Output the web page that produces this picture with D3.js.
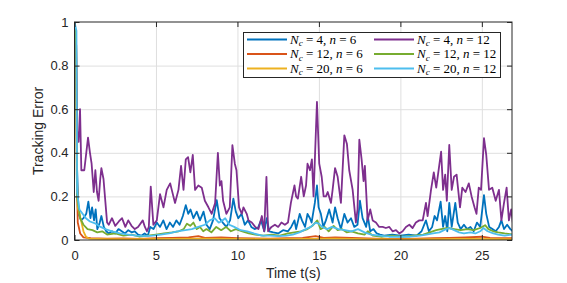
<!DOCTYPE html>
<html>
<head>
<meta charset="utf-8">
<script src="https://cdn.jsdelivr.net/npm/d3@7"></script>
<style>
  body { margin: 0; background: #fff; }
  svg { display: block; font-family: "Liberation Sans", Arial, sans-serif; }
</style>
</head>
<body>
<svg id="chart" width="567" height="283"></svg>
<script>
(function () {

    // [time (s), tracking error]
    const blue46 = [[0,1],[0.1,0.9],[0.15,0.35],[0.25,0.12],[0.4,0.09],[0.55,0.1],[0.72,0.12],[0.85,0.176],[0.98,0.1],[1.08,0.15],[1.2,0.09],[1.3,0.14],[1.4,0.05],[1.55,0.08],[1.65,0.11],[1.8,0.06],[1.95,0.04],[2.1,0.03],[2.3,0.04],[2.5,0.03],[2.7,0.05],[2.9,0.04],[3.1,0.03],[3.3,0.045],[3.5,0.035],[3.7,0.04],[3.9,0.025],[4.1,0.02],[4.3,0.03],[4.5,0.02],[4.65,0.06],[4.85,0.05],[5.05,0.08],[5.25,0.06],[5.45,0.09],[5.65,0.05],[5.85,0.08],[6.05,0.06],[6.25,0.09],[6.45,0.07],[6.65,0.11],[6.83,0.16],[6.98,0.12],[7.12,0.14],[7.3,0.1],[7.5,0.13],[7.7,0.09],[7.92,0.13],[8.1,0.07],[8.3,0.05],[8.5,0.09],[8.73,0.183],[8.9,0.1],[9.1,0.08],[9.32,0.06],[9.55,0.09],[9.75,0.19],[9.9,0.13],[10.05,0.1],[10.25,0.12],[10.45,0.07],[10.65,0.09],[10.85,0.06],[11.05,0.05],[11.25,0.055],[11.45,0.09],[11.65,0.04],[11.8,0.1],[11.95,0.04],[12.2,0.035],[12.5,0.03],[12.8,0.045],[13.1,0.04],[13.3,0.06],[13.5,0.09],[13.6,0.05],[13.82,0.12],[13.96,0.09],[14.15,0.06],[14.3,0.12],[14.45,0.1],[14.55,0.08],[14.75,0.17],[14.88,0.25],[14.98,0.15],[15.12,0.12],[15.27,0.06],[15.43,0.09],[15.63,0.14],[15.84,0.08],[15.99,0.15],[16.15,0.1],[16.35,0.05],[16.56,0.12],[16.76,0.08],[16.97,0.1],[17.17,0.06],[17.37,0.07],[17.52,0.18],[17.68,0.1],[17.9,0.06],[18.0,0.11],[18.15,0.04],[18.35,0.05],[18.55,0.03],[18.75,0.025],[19.0,0.02],[19.5,0.025],[20.0,0.02],[20.5,0.025],[21.0,0.02],[21.3,0.04],[21.57,0.09],[21.75,0.04],[21.95,0.06],[22.1,0.11],[22.25,0.09],[22.47,0.176],[22.62,0.06],[22.75,0.11],[22.88,0.04],[23.0,0.17],[23.15,0.06],[23.37,0.17],[23.52,0.08],[23.7,0.05],[23.9,0.07],[24.1,0.05],[24.3,0.06],[24.5,0.04],[24.7,0.08],[24.9,0.06],[25.13,0.206],[25.27,0.12],[25.45,0.06],[25.65,0.05],[25.85,0.04],[26.05,0.06],[26.2,0.09],[26.36,0.05],[26.55,0.07],[26.75,0.05],[26.9,0.04]];

    const orange126 = [[0,1],[0.1,0.9],[0.14,0.3],[0.2,0.08],[0.35,0.03],[0.55,0.012],[1,0.008],[2,0.006],[3,0.007],[4,0.005],[5,0.008],[6,0.01],[7,0.012],[7.6,0.018],[8,0.01],[9,0.012],[10,0.009],[11,0.007],[12,0.006],[13,0.008],[14,0.01],[14.8,0.018],[15.3,0.01],[16,0.012],[17,0.01],[18,0.007],[19,0.005],[20,0.005],[21,0.006],[22,0.008],[23,0.01],[24,0.012],[25,0.015],[25.5,0.01],[26.9,0.008]];

    const yellow206 = [[0,1],[0.1,0.9],[0.15,0.3],[0.2,0.15],[0.4,0.09],[0.55,0.04],[0.7,0.015],[0.9,0.006],[2,0.004],[4,0.004],[6,0.005],[8,0.006],[10,0.005],[12,0.004],[14,0.005],[16,0.006],[18,0.004],[20,0.003],[22,0.004],[24,0.005],[26.9,0.004]];

    const purple412 = [[0,1],[0.1,0.9],[0.16,0.5],[0.25,0.45],[0.34,0.6],[0.42,0.32],[0.6,0.32],[0.83,0.47],[0.95,0.4],[1.05,0.35],[1.18,0.22],[1.28,0.32],[1.38,0.22],[1.48,0.18],[1.58,0.28],[1.65,0.33],[1.78,0.28],[1.9,0.17],[2.0,0.08],[2.1,0.07],[2.3,0.1],[2.5,0.065],[2.72,0.085],[2.92,0.1],[3.02,0.08],[3.12,0.06],[3.3,0.09],[3.5,0.065],[3.7,0.05],[3.9,0.06],[4.19,0.09],[4.32,0.06],[4.45,0.04],[4.56,0.06],[4.68,0.245],[4.84,0.07],[5.05,0.09],[5.25,0.21],[5.46,0.15],[5.66,0.23],[5.87,0.26],[5.97,0.23],[6.17,0.17],[6.38,0.23],[6.54,0.34],[6.69,0.23],[6.83,0.37],[6.97,0.38],[7.11,0.31],[7.26,0.39],[7.4,0.23],[7.6,0.25],[7.81,0.24],[8.0,0.18],[8.22,0.15],[8.42,0.12],[8.63,0.17],[8.8,0.4],[8.92,0.25],[9.02,0.27],[9.12,0.18],[9.32,0.12],[9.53,0.15],[9.69,0.435],[9.84,0.35],[9.94,0.32],[10.1,0.15],[10.27,0.12],[10.37,0.15],[10.57,0.12],[10.68,0.09],[10.88,0.08],[11.09,0.06],[11.29,0.05],[11.5,0.11],[11.64,0.04],[11.78,0.29],[11.88,0.04],[12.09,0.06],[12.3,0.07],[12.5,0.06],[12.7,0.08],[12.91,0.07],[13.1,0.08],[13.28,0.17],[13.5,0.25],[13.6,0.2],[13.71,0.19],[13.91,0.29],[14.07,0.2],[14.21,0.25],[14.3,0.35],[14.45,0.32],[14.57,0.37],[14.67,0.2],[14.88,0.634],[15.02,0.35],[15.17,0.29],[15.29,0.2],[15.43,0.2],[15.54,0.22],[15.74,0.17],[15.84,0.23],[15.99,0.33],[16.15,0.29],[16.35,0.17],[16.56,0.48],[16.72,0.44],[16.86,0.32],[17.07,0.23],[17.27,0.08],[17.37,0.14],[17.48,0.46],[17.62,0.37],[17.74,0.27],[17.82,0.34],[17.99,0.09],[18.15,0.14],[18.3,0.09],[18.5,0.08],[18.7,0.06],[18.91,0.06],[19.11,0.055],[19.32,0.06],[19.52,0.04],[19.73,0.045],[19.93,0.03],[20.14,0.04],[20.34,0.06],[20.55,0.07],[20.75,0.055],[20.95,0.08],[21.16,0.09],[21.37,0.09],[21.57,0.17],[21.67,0.11],[21.88,0.23],[22.05,0.31],[22.2,0.24],[22.5,0.405],[22.62,0.23],[22.75,0.3],[22.85,0.18],[23.0,0.436],[23.15,0.23],[23.29,0.29],[23.45,0.3],[23.66,0.15],[23.8,0.24],[24.0,0.22],[24.2,0.26],[24.37,0.2],[24.55,0.15],[24.67,0.12],[24.81,0.24],[24.95,0.23],[25.13,0.467],[25.27,0.39],[25.44,0.23],[25.64,0.24],[25.85,0.18],[26.05,0.23],[26.2,0.09],[26.36,0.17],[26.52,0.24],[26.66,0.09],[26.8,0.14],[26.9,0.08]];

    const green1212 = [[0,1],[0.1,0.9],[0.15,0.2],[0.35,0.1],[0.55,0.07],[0.8,0.05],[1.1,0.045],[1.4,0.035],[1.7,0.04],[2.0,0.025],[2.5,0.03],[3.0,0.02],[3.5,0.025],[4.0,0.015],[4.5,0.02],[5.0,0.025],[5.5,0.03],[6.0,0.035],[6.4,0.04],[6.7,0.05],[6.9,0.075],[7.1,0.065],[7.3,0.08],[7.5,0.05],[7.7,0.06],[7.9,0.04],[8.1,0.05],[8.4,0.035],[8.7,0.06],[9.0,0.045],[9.3,0.06],[9.6,0.04],[9.9,0.05],[10.3,0.04],[10.7,0.03],[11.1,0.025],[11.6,0.02],[12.1,0.025],[12.6,0.02],[13.1,0.03],[13.5,0.035],[13.9,0.04],[14.3,0.05],[14.6,0.065],[14.9,0.09],[15.1,0.05],[15.35,0.06],[15.6,0.04],[15.9,0.065],[16.15,0.045],[16.4,0.05],[16.7,0.035],[17.0,0.04],[17.4,0.03],[17.8,0.025],[18.0,0.04],[18.3,0.02],[18.8,0.015],[19.5,0.02],[20.2,0.015],[20.8,0.02],[21.4,0.025],[21.8,0.035],[22.2,0.045],[22.5,0.05],[22.9,0.055],[23.3,0.05],[23.7,0.045],[24.1,0.05],[24.5,0.045],[24.9,0.055],[25.2,0.068],[25.4,0.05],[25.7,0.04],[26.0,0.035],[26.4,0.03],[26.9,0.025]];

    const cyan2012 = [[0,1],[0.12,0.96],[0.16,0.22],[0.3,0.14],[0.5,0.12],[0.7,0.1],[0.95,0.085],[1.3,0.075],[1.6,0.06],[1.9,0.05],[2.3,0.04],[2.8,0.03],[3.3,0.025],[3.8,0.02],[4.3,0.018],[4.8,0.02],[5.3,0.025],[5.8,0.03],[6.3,0.04],[6.8,0.045],[7.2,0.05],[7.6,0.06],[8.0,0.07],[8.3,0.09],[8.6,0.1],[8.85,0.08],[9.0,0.085],[9.25,0.1],[9.5,0.07],[9.8,0.06],[10.2,0.045],[10.6,0.04],[11.0,0.03],[11.5,0.02],[12.0,0.02],[12.5,0.018],[13.0,0.02],[13.4,0.025],[13.8,0.035],[14.2,0.05],[14.5,0.06],[14.8,0.08],[15.0,0.075],[15.2,0.06],[15.5,0.05],[15.8,0.06],[16.2,0.05],[16.6,0.045],[17.0,0.04],[17.4,0.05],[17.8,0.035],[18.2,0.025],[18.7,0.02],[19.3,0.015],[20.0,0.015],[20.6,0.015],[21.2,0.02],[21.6,0.025],[22.0,0.03],[22.4,0.035],[22.8,0.05],[23.0,0.055],[23.3,0.045],[23.6,0.035],[23.9,0.03],[24.3,0.035],[24.6,0.03],[24.9,0.04],[25.1,0.055],[25.35,0.04],[25.7,0.03],[26.0,0.025],[26.4,0.02],[26.9,0.025]];

    const seriesData = [blue46, orange126, yellow206, purple412, green1212, cyan2012];
    const seriesNc = [4, 12, 20, 4, 12, 20];
    const seriesN = [6, 6, 6, 12, 12, 12];
    const colors = ["#0072BD", "#D95319", "#EDB120", "#7E2F8E", "#77AC30", "#4DBEEE"];

    const xTicks = [0, 5, 10, 15, 20, 25];
    const yTicks = [0, 0.2, 0.4, 0.6, 0.8, 1];

    const left = 74.5, right = 512, top = 22, bottom = 240;
    const axisColor = "#262626";

    const svg = d3.select("#chart");

    const x = d3.scaleLinear().domain([0, 26.85]).range([left, right]);
    const y = d3.scaleLinear().domain([0, 1]).range([bottom, top]);

    // grid
    svg.append("g")
        .attr("transform", `translate(0,${bottom})`)
        .call(d3.axisBottom(x).tickValues(xTicks.slice(1)).tickSize(-(bottom - top)).tickFormat(""))
        .call(g => g.select(".domain").remove())
        .selectAll("line").attr("stroke", "#dfdfdf");
    svg.append("g")
        .attr("transform", `translate(${left},0)`)
        .call(d3.axisLeft(y).tickValues(yTicks.slice(1, -1)).tickSize(-(right - left)).tickFormat(""))
        .call(g => g.select(".domain").remove())
        .selectAll("line").attr("stroke", "#dfdfdf");

    svg.append("clipPath").attr("id", "plotclip")
        .append("rect")
        .attr("x", left).attr("y", top - 2)
        .attr("width", right - left).attr("height", bottom - top + 2);

    const line = d3.line().x(d => x(d[0])).y(d => y(d[1]));

    svg.append("g")
        .attr("clip-path", "url(#plotclip)")
        .selectAll("path")
        .data(seriesData)
        .enter()
        .append("path")
        .attr("d", line)
        .attr("fill", "none")
        .attr("stroke", (d, i) => colors[i])
        .attr("stroke-width", 1.8)
        .attr("stroke-linejoin", "round");

    // axes with inward ticks on all sides
    const styleAxis = g => {
        g.select(".domain").remove();
        g.selectAll("line").attr("stroke", axisColor);
        g.selectAll("text")
            .attr("fill", axisColor)
            .attr("font-size", 13)
            .attr("font-family", "Liberation Sans, Arial, sans-serif");
    };

    svg.append("g")
        .attr("transform", `translate(0,${bottom})`)
        .call(d3.axisBottom(x).tickValues(xTicks).tickSize(-5).tickPadding(11).tickFormat(d3.format("d")))
        .call(styleAxis);
    svg.append("g")
        .attr("transform", `translate(0,${top})`)
        .call(d3.axisTop(x).tickValues(xTicks).tickSize(-5).tickFormat(""))
        .call(styleAxis);
    svg.append("g")
        .attr("transform", `translate(${left},0)`)
        .call(d3.axisLeft(y).tickValues(yTicks).tickSize(-5).tickPadding(6).tickFormat(d => d === 0 || d === 1 ? d : d3.format(".1f")(d)))
        .call(styleAxis);
    svg.append("g")
        .attr("transform", `translate(${right},0)`)
        .call(d3.axisRight(y).tickValues(yTicks).tickSize(-5).tickFormat(""))
        .call(styleAxis);

    svg.append("rect")
        .attr("x", left).attr("y", top)
        .attr("width", right - left).attr("height", bottom - top)
        .attr("fill", "none")
        .attr("stroke", axisColor)
        .attr("stroke-width", 1);

    svg.append("text")
        .attr("x", (left + right) / 2)
        .attr("y", 278)
        .attr("text-anchor", "middle")
        .attr("font-size", 14)
        .attr("fill", axisColor)
        .text("Time t(s)");

    svg.append("text")
        .attr("transform", `translate(43,${(top + bottom) / 2}) rotate(-90)`)
        .attr("text-anchor", "middle")
        .attr("font-size", 14)
        .attr("fill", axisColor)
        .text("Tracking Error");

    // legend
    const legend = svg.append("g");
    legend.append("rect")
        .attr("x", 243.5).attr("y", 32.5)
        .attr("width", 257).attr("height", 45)
        .attr("fill", "#fff")
        .attr("stroke", axisColor)
        .attr("stroke-width", 1);

    const colX = [247, 374];
    const rowY = [39.5, 54, 68.5];

    const items = legend.selectAll("g.item")
        .data(seriesData)
        .enter()
        .append("g")
        .attr("class", "item")
        .attr("transform", (d, i) => `translate(${colX[Math.floor(i / 3)]},${rowY[i % 3]})`);

    items.append("line")
        .attr("x1", 0).attr("x2", 40)
        .attr("stroke", (d, i) => colors[i])
        .attr("stroke-width", 1.8);

    const label = items.append("text")
        .attr("x", 43)
        .attr("y", 4)
        .attr("font-family", "Liberation Serif, Times New Roman, serif")
        .attr("font-size", 13)
        .attr("fill", "#000")
        .attr("xml:space", "preserve");
    label.append("tspan").attr("font-style", "italic").text("N");
    label.append("tspan").attr("font-style", "italic").attr("font-size", 9).attr("dy", 2.5).text("c");
    label.append("tspan").attr("dy", -2.5).text((d, i) => ` = ${seriesNc[i]}, `);
    label.append("tspan").attr("font-style", "italic").text("n");
    label.append("tspan").text((d, i) => ` = ${seriesN[i]}`);

})();
</script>
</body>
</html>
